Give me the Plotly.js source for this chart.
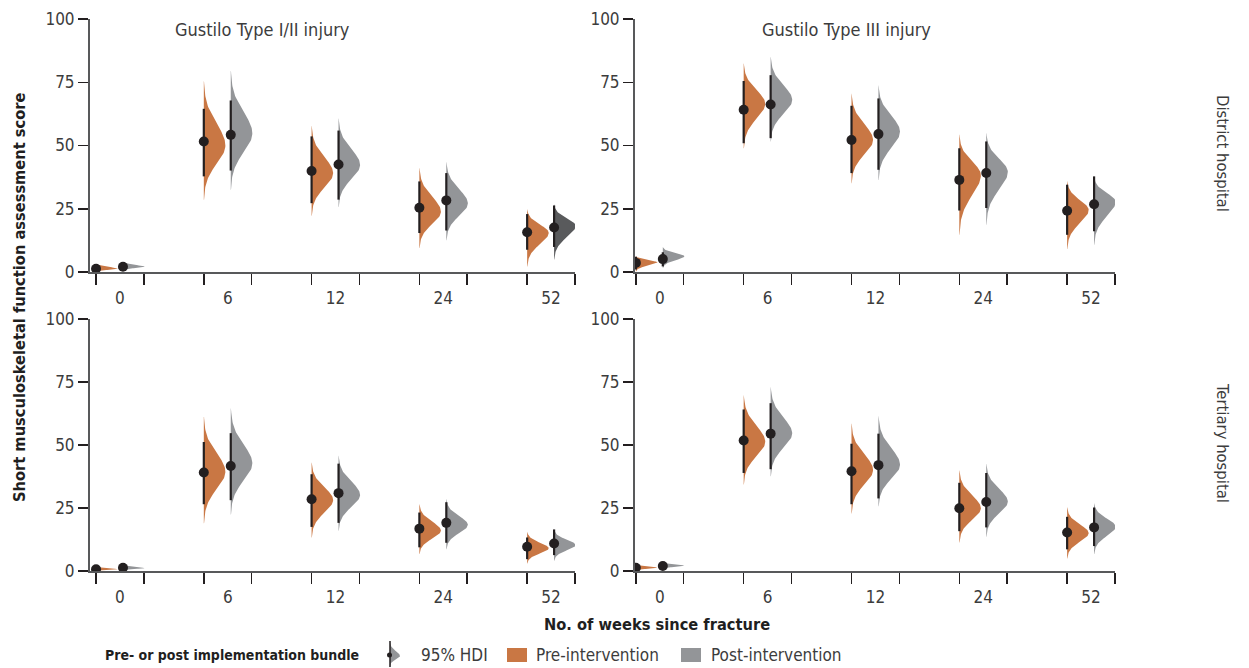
<!DOCTYPE html>
<html><head><meta charset="utf-8">
<script src="https://cdn.plot.ly/plotly-3.0.1.min.js"></script>
<style>html,body{margin:0;padding:0;background:#fff}#chart{width:1249px;height:668px}</style>
</head><body><div id="chart"></div>
<script>
// ---------------- DATA ----------------
const weeks = ['0', '6', '12', '24', '52'];
const injuryTypes = ['Gustilo Type I/II injury', 'Gustilo Type III injury'];
const hospitals = ['District hospital', 'Tertiary hospital'];
const seriesNames = ['Pre-intervention', 'Post-intervention'];

// District hospital, Gustilo Type I/II
const distI_pre_point  = [1.3, 51.6, 39.9, 25.4, 15.7];
const distI_pre_hdiLo  = [0.3, 37.8, 27.2, 15.4, 8.8];
const distI_pre_hdiHi  = [2.5, 64.5, 53.6, 35.8, 22.9];
const distI_pre_slabLo = [0.0, 28.6, 22.2, 9.5, 2.2];
const distI_pre_slabHi = [3.3, 75.5, 57.8, 41.3, 24.9];
const distI_pre_peak   = [1.3, 50.0, 39.0, 23.8, 15.5];
const distI_post_point  = [2.1, 54.2, 42.5, 28.3, 17.6];
const distI_post_hdiLo  = [1.0, 40.1, 28.6, 16.4, 9.9];
const distI_post_hdiHi  = [3.3, 67.8, 55.9, 39.1, 26.3];
const distI_post_slabLo = [0.6, 32.5, 25.7, 12.5, 4.9];
const distI_post_slabHi = [4.0, 79.6, 60.8, 43.7, 26.8];
const distI_post_peak   = [2.1, 54.8, 42.3, 27.1, 18.3];

// District hospital, Gustilo Type III
const distIII_pre_point  = [3.6, 64.1, 52.2, 36.4, 24.2];
const distIII_pre_hdiLo  = [1.0, 50.9, 39.1, 24.3, 14.7];
const distIII_pre_hdiHi  = [6.0, 75.5, 65.7, 48.9, 34.5];
const distIII_pre_slabLo = [0.2, 48.9, 35.1, 14.7, 9.1];
const distIII_pre_slabHi = [6.3, 82.5, 70.7, 54.2, 36.1];
const distIII_pre_peak   = [3.8, 66.5, 52.2, 38.3, 24.5];
const distIII_post_point  = [5.1, 66.2, 54.5, 39.1, 26.8];
const distIII_post_hdiLo  = [2.2, 52.9, 40.4, 25.3, 16.1];
const distIII_post_hdiHi  = [7.8, 77.8, 68.6, 51.6, 37.8];
const distIII_post_slabLo = [1.6, 51.6, 36.4, 18.7, 10.8];
const distIII_post_slabHi = [9.9, 85.1, 73.9, 54.9, 37.8];
const distIII_post_peak   = [6.2, 68.0, 55.5, 39.6, 27.8];

// Tertiary hospital, Gustilo Type I/II
const tertI_pre_point  = [0.7, 39.1, 28.5, 16.8, 9.6];
const tertI_pre_hdiLo  = [0.2, 26.5, 17.5, 9.4, 4.7];
const tertI_pre_hdiHi  = [1.3, 51.2, 38.4, 23.2, 13.3];
const tertI_pre_slabLo = [0.0, 18.9, 13.3, 6.7, 3.0];
const tertI_pre_slabHi = [1.6, 61.1, 43.0, 26.5, 15.6];
const tertI_pre_peak   = [0.7, 39.4, 28.2, 16.0, 9.0];
const tertI_post_point  = [1.3, 41.7, 30.9, 19.1, 10.9];
const tertI_post_hdiLo  = [0.5, 28.1, 19.1, 11.2, 6.3];
const tertI_post_hdiHi  = [2.0, 54.7, 42.6, 27.3, 16.5];
const tertI_post_slabLo = [0.3, 22.4, 16.0, 8.6, 4.1];
const tertI_post_slabHi = [2.3, 64.8, 45.8, 28.5, 16.5];
const tertI_post_peak   = [1.1, 42.7, 30.2, 18.3, 10.3];

// Tertiary hospital, Gustilo Type III
const tertIII_pre_point  = [1.3, 51.8, 39.6, 24.9, 15.3];
const tertIII_pre_hdiLo  = [0.4, 38.9, 26.5, 15.8, 8.6];
const tertIII_pre_hdiHi  = [2.2, 64.1, 50.5, 35.0, 21.5];
const tertIII_pre_slabLo = [0.2, 34.3, 22.8, 11.3, 5.0];
const tertIII_pre_slabHi = [2.4, 69.9, 58.4, 40.0, 25.2];
const tertIII_pre_peak   = [1.3, 51.3, 40.1, 24.9, 15.0];
const tertIII_post_point  = [2.0, 54.5, 42.0, 27.4, 17.3];
const tertIII_post_hdiLo  = [1.0, 40.4, 28.8, 17.3, 9.9];
const tertIII_post_hdiHi  = [3.0, 66.6, 54.5, 38.9, 25.2];
const tertIII_post_slabLo = [0.8, 37.6, 25.7, 13.6, 6.7];
const tertIII_post_slabHi = [3.2, 73.2, 61.7, 42.6, 27.0];
const tertIII_post_peak   = [2.1, 54.6, 42.1, 27.5, 17.6];

const yTicks = [0, 25, 50, 75, 100];

// ---------------- STYLE ----------------
const FONT = '"DejaVu Sans Condensed", "DejaVu Sans", sans-serif';
const ORANGE = '#c97744';
const GRAY = '#939598';
const DARKGRAY = '#595a5c';
const INK = '#231f20';
const TXT = '#3c3c3c';
const BOLDTXT = '#1f1f1f';
const W = 1249, H = 668;
const POST_OFF = 0.25;    // post-intervention offset within a week group
const SLAB_W = 0.2;       // max half-violin width (x units)
const GROUP_END = 0.444;  // right tick of each group
const LABEL_OFF = 0.222;  // week label position

function px(x) { return x / W; }
function py(y) { return 1 - y / H; }

const panelDefs = [
  {xa: 'x',  ya: 'y',  pre: 'distI',   xdom: [90, 575],  ydom: [19, 272],  xr: [-0.056, 4.444], dark52: true},
  {xa: 'x2', ya: 'y2', pre: 'distIII', xdom: [635, 1115], ydom: [19, 272],  xr: [-0.008, 4.444]},
  {xa: 'x3', ya: 'y3', pre: 'tertI',   xdom: [90, 575],  ydom: [319, 571], xr: [-0.056, 4.444]},
  {xa: 'x4', ya: 'y4', pre: 'tertIII', xdom: [635, 1115], ydom: [319, 571], xr: [-0.008, 4.444]}
];
const dataSets = {
  distI: {pre: [distI_pre_point, distI_pre_hdiLo, distI_pre_hdiHi, distI_pre_slabLo, distI_pre_slabHi, distI_pre_peak],
          post: [distI_post_point, distI_post_hdiLo, distI_post_hdiHi, distI_post_slabLo, distI_post_slabHi, distI_post_peak]},
  distIII: {pre: [distIII_pre_point, distIII_pre_hdiLo, distIII_pre_hdiHi, distIII_pre_slabLo, distIII_pre_slabHi, distIII_pre_peak],
          post: [distIII_post_point, distIII_post_hdiLo, distIII_post_hdiHi, distIII_post_slabLo, distIII_post_slabHi, distIII_post_peak]},
  tertI: {pre: [tertI_pre_point, tertI_pre_hdiLo, tertI_pre_hdiHi, tertI_pre_slabLo, tertI_pre_slabHi, tertI_pre_peak],
          post: [tertI_post_point, tertI_post_hdiLo, tertI_post_hdiHi, tertI_post_slabLo, tertI_post_slabHi, tertI_post_peak]},
  tertIII: {pre: [tertIII_pre_point, tertIII_pre_hdiLo, tertIII_pre_hdiHi, tertIII_pre_slabLo, tertIII_pre_slabHi, tertIII_pre_peak],
          post: [tertIII_post_point, tertIII_post_hdiLo, tertIII_post_hdiHi, tertIII_post_slabLo, tertIII_post_slabHi, tertIII_post_peak]}
};

// half-violin outline from the read extents and peak (split-normal shape)
function slabOutline(base, lo, hi, pk, width) {
  const sLo = Math.max((pk - lo) / 3, 1e-4), sHi = Math.max((hi - pk) / 3, 1e-4);
  const ys = [];
  const n = 90;
  for (let k = 0; k <= n; k++) ys.push(lo + (hi - lo) * k / n);
  ys.push(pk); ys.sort((a, b) => a - b);
  const xs = ys.map(y => { const s = y < pk ? sLo : sHi; return base + width * Math.exp(-0.5 * Math.pow((y - pk) / s, 2)); });
  xs.push(base, base, xs[0]); ys.push(hi, lo, ys[0]);
  return {xs, ys};
}

const traces = [];
panelDefs.forEach(p => {
  const ds = dataSets[p.pre];
  ['pre', 'post'].forEach((ser, si) => {
    const [pt, hLo, hHi, sLo, sHi, pk] = ds[ser];
    const off = si === 0 ? 0 : POST_OFF;
    weeks.forEach((w, i) => {
      const o = slabOutline(i + off, sLo[i], sHi[i], pk[i], SLAB_W);
      let col = si === 0 ? ORANGE : GRAY;
      if (p.dark52 && si === 1 && i === 4) col = DARKGRAY;
      traces.push({type: 'scatter', mode: 'lines', x: o.xs, y: o.ys, fill: 'toself', fillcolor: col,
        line: {width: 0, color: col}, xaxis: p.xa, yaxis: p.ya, hoverinfo: 'skip', showlegend: false});
    });
  });
  ['pre', 'post'].forEach((ser, si) => {
    const [pt, hLo, hHi] = ds[ser];
    const off = si === 0 ? 0 : POST_OFF;
    const lx = [], ly = [];
    weeks.forEach((w, i) => { lx.push(i + off, i + off, null); ly.push(hLo[i], hHi[i], null); });
    traces.push({type: 'scatter', mode: 'lines', x: lx, y: ly, line: {color: INK, width: 2.2},
      xaxis: p.xa, yaxis: p.ya, hoverinfo: 'skip', showlegend: false});
    traces.push({type: 'scatter', mode: 'markers', x: weeks.map((w, i) => i + off), y: pt,
      marker: {color: INK, size: 10}, xaxis: p.xa, yaxis: p.ya, name: seriesNames[si], showlegend: false});
  });
});

// legend key (95% HDI icon) in a tiny subplot
const keyShape = {lo: 2, hi: 26, peak: 12, point: 13, base: 6};
{
  const o = slabOutline(keyShape.base, keyShape.lo, keyShape.hi, keyShape.peak, 10);
  traces.push({type: 'scatter', mode: 'lines', x: o.xs, y: o.ys, fill: 'toself', fillcolor: GRAY,
    line: {width: 0, color: GRAY}, xaxis: 'x5', yaxis: 'y5', hoverinfo: 'skip', showlegend: false});
  traces.push({type: 'scatter', mode: 'lines', x: [keyShape.base, keyShape.base], y: [keyShape.lo - 1, keyShape.hi + 1], line: {color: INK, width: 1.5},
    xaxis: 'x5', yaxis: 'y5', hoverinfo: 'skip', showlegend: false});
  traces.push({type: 'scatter', mode: 'markers', x: [keyShape.base - 0.5], y: [keyShape.point], marker: {color: INK, size: 5},
    xaxis: 'x5', yaxis: 'y5', hoverinfo: 'skip', showlegend: false});
}

const layout = {
  width: W, height: H, margin: {l: 0, r: 0, t: 0, b: 0},
  paper_bgcolor: '#fff', plot_bgcolor: 'rgba(0,0,0,0)', showlegend: false,
  font: {family: FONT, color: TXT},
  annotations: [], shapes: []
};

panelDefs.forEach((p, k) => {
  const xn = k === 0 ? 'xaxis' : 'xaxis' + (k + 1);
  const yn = k === 0 ? 'yaxis' : 'yaxis' + (k + 1);
  const minorVals = [];
  weeks.forEach((w, i) => minorVals.push(i, i + GROUP_END));
  layout[xn] = {
    domain: [px(p.xdom[0]), px(p.xdom[1])], range: p.xr, anchor: p.ya,
    showgrid: false, zeroline: false, showline: true, linecolor: '#58595b', linewidth: 2,
    tickmode: 'array', tickvals: weeks.map((w, i) => i + LABEL_OFF), ticktext: weeks,
    ticks: 'outside', ticklen: 10, tickcolor: 'rgba(0,0,0,0)', tickwidth: 1,
    tickfont: {family: FONT, size: 17, color: TXT},
    minor: {tickmode: 'array', tickvals: minorVals, ticks: 'outside', ticklen: 11, tickwidth: 1.5, tickcolor: INK, showgrid: false},
    fixedrange: true, automargin: false
  };
  layout[yn] = {
    domain: [py(p.ydom[1]), py(p.ydom[0])], range: [0, 100], anchor: p.xa,
    showgrid: false, zeroline: false, showline: true, linecolor: '#58595b', linewidth: 2,
    tickmode: 'array', tickvals: yTicks, ticktext: yTicks.map(String),
    ticks: 'outside', ticklen: 10, tickwidth: 1.5, tickcolor: INK,
    tickfont: {family: FONT, size: 17, color: TXT},
    fixedrange: true, automargin: false
  };
});
layout.xaxis5 = {domain: [px(384), px(410)], range: [0, 26], anchor: 'y5', visible: false, fixedrange: true};
layout.yaxis5 = {domain: [py(668), py(640)], range: [0, 28], anchor: 'x5', visible: false, fixedrange: true};

const A = layout.annotations;
function note(text, x, y, size, opts) {
  A.push(Object.assign({text: text, x: px(x), y: py(y), xref: 'paper', yref: 'paper', showarrow: false,
    font: {family: FONT, size: size, color: TXT}, xanchor: 'center', yanchor: 'middle'}, opts || {}));
}
note(injuryTypes[0], 262, 30, 18);
note(injuryTypes[1], 846, 30, 18);
note(hospitals[0], 1223, 153, 16.5, {textangle: 90});
note(hospitals[1], 1223, 443, 16.5, {textangle: 90});
note('Short musculoskeletal function assessment score', 20, 297, 16.3,
  {textangle: -90, font: {family: FONT, size: 16.3, color: BOLDTXT, weight: 700}});
note('No. of weeks since fracture', 657, 624, 16.3, {font: {family: FONT, size: 16.3, color: BOLDTXT, weight: 700}});
note('Pre- or post implementation bundle', 103, 655, 14, {xanchor: 'left', font: {family: FONT, size: 14, color: BOLDTXT, weight: 700}});
note('95% HDI', 419, 655, 17, {xanchor: 'left'});
note(seriesNames[0], 534, 655, 17, {xanchor: 'left'});
note(seriesNames[1], 709, 655, 17, {xanchor: 'left'});

layout.shapes.push({type: 'rect', xref: 'paper', yref: 'paper', x0: px(507), x1: px(527), y0: py(662), y1: py(648), fillcolor: ORANGE, line: {width: 0}});
layout.shapes.push({type: 'rect', xref: 'paper', yref: 'paper', x0: px(681), x1: px(701), y0: py(662), y1: py(648), fillcolor: GRAY, line: {width: 0}});

Plotly.newPlot('chart', traces, layout, {displayModeBar: false, staticPlot: true});
</script>
</body></html>
